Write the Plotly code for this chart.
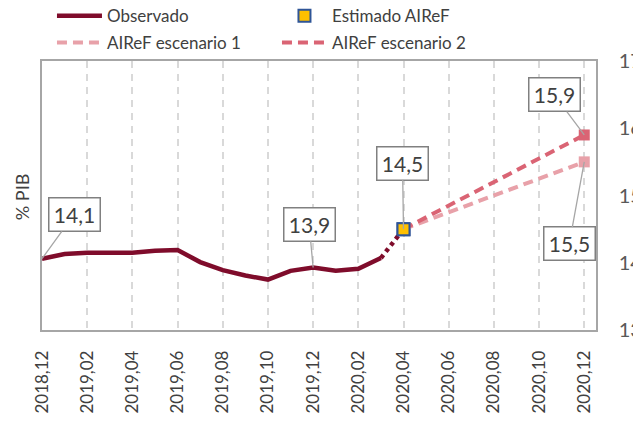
import plotly.graph_objects as go

# ---- data ----
months = ["2018,12", "2019,01", "2019,02", "2019,03", "2019,04", "2019,05", "2019,06",
          "2019,07", "2019,08", "2019,09", "2019,10", "2019,11", "2019,12",
          "2020,01", "2020,02", "2020,03", "2020,04", "2020,05", "2020,06",
          "2020,07", "2020,08", "2020,09", "2020,10", "2020,11", "2020,12"]
tick_labels = months[::2]

obs_x = months[:16]
obs_y = [14.06, 14.13, 14.15, 14.15, 14.15, 14.18, 14.19, 14.01, 13.89, 13.81,
         13.75, 13.88, 13.93, 13.88, 13.91, 14.07]

est_x = ["2020,04"]
est_y = [14.5]

esc1_x = ["2020,04", "2020,12"]
esc1_y = [14.5, 15.5]
esc2_x = ["2020,04", "2020,12"]
esc2_y = [14.5, 15.9]

# ---- styles ----
C_OBS = "#7F0C2B"
C_ESC1 = "#E8A1A9"
C_ESC2 = "#DA6474"
C_EST = "#FFC000"
C_EST_BORDER = "#2F5597"
TXT = "#404040"
FONT = "Lato"

fig = go.Figure()

fig.add_trace(go.Scatter(x=obs_x, y=obs_y, mode="lines", name="Observado",
                         line=dict(color=C_OBS, width=4.5), legend="legend"))
fig.add_trace(go.Scatter(x=est_x, y=est_y, mode="markers", name="Estimado AIReF",
                         marker=dict(symbol="square", size=12, color=C_EST,
                                     line=dict(color=C_EST_BORDER, width=2)),
                         legend="legend"))
fig.add_trace(go.Scatter(x=esc1_x, y=esc1_y, mode="lines", name="AIReF escenario 1",
                         line=dict(color=C_ESC1, width=4, dash="10px,6px"), legend="legend2"))
fig.add_trace(go.Scatter(x=esc2_x, y=esc2_y, mode="lines", name="AIReF escenario 2",
                         line=dict(color=C_ESC2, width=4, dash="10px,6px"), legend="legend2"))
# end markers of scenarios
fig.add_trace(go.Scatter(x=[esc1_x[-1]], y=[esc1_y[-1]], mode="markers", showlegend=False,
                         marker=dict(symbol="square", size=11, color=C_ESC1)))
fig.add_trace(go.Scatter(x=[esc2_x[-1]], y=[esc2_y[-1]], mode="markers", showlegend=False,
                         marker=dict(symbol="square", size=11, color=C_ESC2)))
# dotted link between last observation and estimate
fig.add_trace(go.Scatter(x=[obs_x[-1], est_x[0]], y=[obs_y[-1], est_y[0]], mode="lines",
                         showlegend=False, line=dict(color=C_OBS, width=4.5, dash="4px,4px")))
# re-draw estimate marker on top
fig.add_trace(go.Scatter(x=est_x, y=est_y, mode="markers", showlegend=False,
                         marker=dict(symbol="square", size=12, color=C_EST,
                                     line=dict(color=C_EST_BORDER, width=2))))

def box(x, y, text, ax, ay):
    fig.add_annotation(x=x, y=y, text=text, showarrow=True, arrowhead=0,
                       arrowcolor="#A6A6A6", arrowwidth=1.3, ax=ax, ay=ay,
                       bgcolor="white", bordercolor="#808080", borderwidth=1.5,
                       borderpad=2, width=46, height=28,
                       font=dict(family=FONT, size=21, color=TXT))

box(obs_x[0], obs_y[0], "14,1", 32, -44)
box("2019,12", obs_y[12], "13,9", -4, -43)
box(est_x[0], est_y[0], "14,5", -1, -66)
box(esc2_x[-1], esc2_y[-1], "15,9", -30, -40)
box(esc1_x[-1], esc1_y[-1], "15,5", -15, 82)

fig.add_annotation(xref="paper", yref="paper", x=-0.036, y=0.494, text="% PIB",
                   xanchor="center", yanchor="middle",
                   textangle=-90, showarrow=False,
                   font=dict(family=FONT, size=18, color=TXT))

fig.update_layout(
    width=633, height=421,
    margin=dict(l=42, r=37, t=61, b=91, autoexpand=False),
    paper_bgcolor="white", plot_bgcolor="white",
    font=dict(family=FONT, color=TXT),
    legend=dict(orientation="h", x=0.018, xanchor="left", y=1.167, yanchor="middle",
                entrywidth=165, itemwidth=45, font=dict(family=FONT, size=17, color=TXT),
                bgcolor="rgba(0,0,0,0)"),
    legend2=dict(orientation="h", x=0.018, xanchor="left", y=1.067, yanchor="middle",
                 entrywidth=165, itemwidth=45, font=dict(family=FONT, size=17, color=TXT),
                 bgcolor="rgba(0,0,0,0)"),
    xaxis=dict(type="category", categoryorder="array", categoryarray=months,
               range=[0, 24.52], tickmode="array", tickvals=tick_labels,
               ticktext=tick_labels, tickangle=-90, ticklabelstandoff=12,
               tickfont=dict(family=FONT, size=17, color=TXT),
               showgrid=True, gridcolor="#D9D9D9", gridwidth=1.5, griddash="7px,6px",
               showline=True, mirror=True, linecolor="#A6A6A6", linewidth=1.5,
               ticks="", zeroline=False),
    yaxis=dict(range=[13, 17], dtick=1, side="right", showgrid=False,
               ticklabelstandoff=17, tickfont=dict(family=FONT, size=20, color="#595959"),
               showline=True, mirror=True, linecolor="#A6A6A6", linewidth=1.5,
               ticks="", zeroline=False),
)

fig.write_html("out.html", config={"displayModeBar": False},
               post_script="document.body.style.margin='0';document.body.style.overflow='hidden';")
